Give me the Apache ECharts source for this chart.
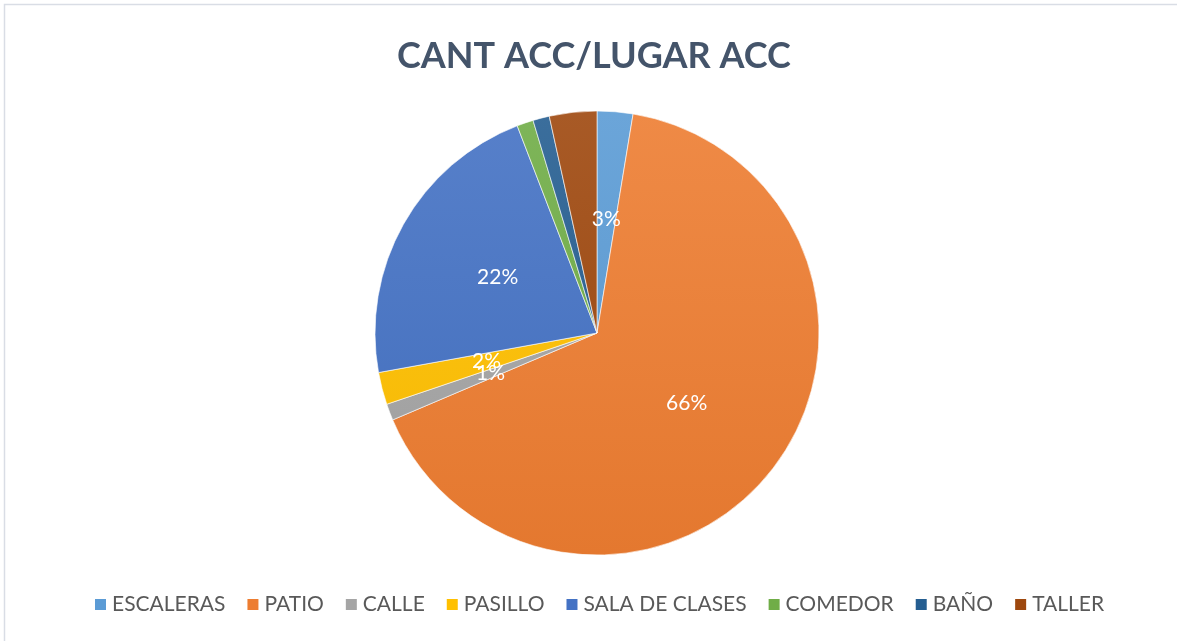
<!DOCTYPE html>
<html>
<head>
<meta charset="utf-8">
<script src="https://cdn.jsdelivr.net/npm/echarts@6/dist/echarts.min.js"></script>
<style>
  html, body { margin: 0; padding: 0; background: #fff; }
  #main { width: 1177px; height: 641px; }
</style>
</head>
<body>
<div id="main"></div>
<script>
// datos del grafico
var lugares = ['ESCALERAS', 'PATIO', 'CALLE', 'PASILLO', 'SALA DE CLASES', 'COMEDOR', 'BAÑO', 'TALLER'];
var porcentajes = [2.6, 66.0, 1.2, 2.35, 22.0, 1.2, 1.2, 3.45];
var colores = ['#5B9BD5', '#ED7D31', '#A5A5A5', '#FFC000', '#4472C4', '#70AD47', '#255E91', '#9E480E'];
// etiquetas que no se muestran en el original
var sinEtiqueta = ['COMEDOR', 'BAÑO', 'TALLER'];

function mezcla(hex, f) {
  var n = parseInt(hex.slice(1), 16);
  var r = (n >> 16) & 255, g = (n >> 8) & 255, b = n & 255;
  var t = f > 0 ? 255 : 0, p = Math.abs(f);
  r = Math.round(r + (t - r) * p);
  g = Math.round(g + (t - g) * p);
  b = Math.round(b + (t - b) * p);
  return 'rgb(' + r + ',' + g + ',' + b + ')';
}

function degradado(hex) {
  return new echarts.graphic.LinearGradient(0, 111, 0, 555, [
    { offset: 0, color: mezcla(hex, 0.1) },
    { offset: 1, color: mezcla(hex, -0.04) }
  ], true);
}

var chartDom = document.getElementById('main');
var myChart = echarts.init(chartDom);

var datos = lugares.map(function (nombre, i) {
  var item = {
    name: nombre,
    value: porcentajes[i],
    itemStyle: { color: degradado(colores[i]) }
  };
  if (sinEtiqueta.indexOf(nombre) >= 0) {
    item.label = { show: false };
  }
  return item;
});

var option = {
  backgroundColor: '#ffffff',
  animation: false,
  title: {
    text: 'CANT ACC/LUGAR ACC',
    left: 392,
    top: 33,
    textStyle: {
      fontFamily: 'Lato',
      fontWeight: 'bold',
      fontSize: 36,
      color: '#44546A'
    }
  },
  legend: {
    bottom: 21,
    left: 88,
    itemWidth: 13,
    itemHeight: 13,
    itemGap: 20,
    icon: 'rect',
    textStyle: {
      fontFamily: 'Lato',
      fontSize: 21,
      color: '#595959'
    },
    data: lugares.map(function (nombre, i) {
      return { name: nombre, itemStyle: { color: colores[i] } };
    })
  },
  graphic: [{
    type: 'rect',
    shape: { x: 4.5, y: 4.5, width: 1200, height: 700 },
    style: { fill: 'none', stroke: '#D9DDE5', lineWidth: 1.5 },
    silent: true
  }],
  series: [
    {
      type: 'pie',
      center: [597, 333],
      radius: 222,
      startAngle: 90,
      clockwise: true,
      avoidLabelOverlap: false,
      percentPrecision: 0,
      minShowLabelAngle: 0,
      labelLayout: { hideOverlap: false },
      itemStyle: {
        borderColor: '#ffffff',
        borderWidth: 0.6
      },
      label: {
        show: true,
        position: 'inside',
        formatter: '{d}%',
        color: '#ffffff',
        fontFamily: 'Lato',
        fontSize: 21
      },
      labelLine: { show: false },
      emphasis: { disabled: true },
      data: datos
    }
  ]
};

myChart.setOption(option);
</script>
</body>
</html>
